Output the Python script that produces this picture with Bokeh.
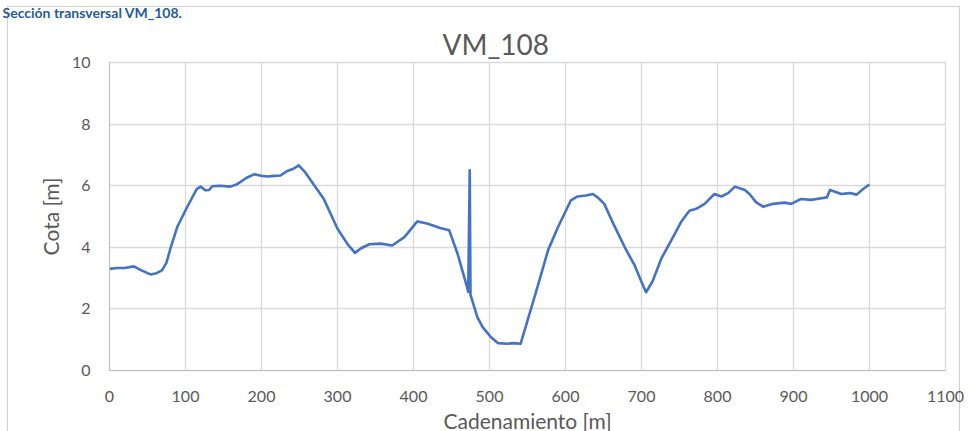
from bokeh.plotting import figure
from bokeh.models import SingleIntervalTicker, ColumnDataSource, Title
from bokeh.embed import file_html
from bokeh.resources import INLINE

page_heading = "Sección transversal VM_108."
title_text = "VM_108"
x_label = "Cadenamiento [m]"
y_label = "Cota [m]"

cadenamiento = [0, 10, 20, 32, 42, 54, 62, 69, 75, 80, 89, 102, 115, 120, 126, 131, 135, 145,
                159, 168, 180, 190, 200, 208, 217, 225, 234, 242, 249, 257, 265, 282, 300, 313,
                323, 331, 342, 357, 372, 388, 405, 418, 435, 447, 458, 466, 470, 472, 474, 475,
                477, 484, 491, 502, 511, 524, 532, 541, 550, 563, 577, 590, 607, 616, 627, 636,
                642, 651, 664, 678, 691, 702, 706, 715, 726, 739, 752, 763, 772, 783, 796, 805,
                814, 823, 836, 842, 851, 860, 873, 888, 897, 910, 923, 939, 944, 948, 963, 974,
                983, 992, 1000]
cota = [3.30, 3.33, 3.33, 3.38, 3.25, 3.12, 3.16, 3.25, 3.5, 3.95, 4.65, 5.3, 5.9, 5.97, 5.85,
        5.86, 5.98, 6.0, 5.97, 6.05, 6.25, 6.37, 6.32, 6.3, 6.32, 6.33, 6.48, 6.55, 6.66, 6.45,
        6.17, 5.57, 4.6, 4.11, 3.82, 3.97, 4.1, 4.12, 4.06, 4.33, 4.84, 4.77, 4.63, 4.55, 3.79,
        3.1, 2.75, 2.55, 6.5, 2.45, 2.3, 1.73, 1.41, 1.08, 0.89, 0.87, 0.89, 0.87, 1.62, 2.7,
        3.9, 4.65, 5.52, 5.65, 5.68, 5.73, 5.63, 5.41, 4.71, 4.0, 3.41, 2.76, 2.54, 2.92, 3.63,
        4.22, 4.82, 5.19, 5.25, 5.41, 5.73, 5.65, 5.76, 5.97, 5.86, 5.73, 5.46, 5.32, 5.41,
        5.45, 5.41, 5.57, 5.54, 5.6, 5.62, 5.86, 5.73, 5.76, 5.71, 5.9, 6.04]

x_start, x_end, x_step = 0, 1100, 100
y_start, y_end, y_step = 0, 10, 2

FONT = "Lato"
TEXT = "#595959"
GRID = "#d9d9d9"

p = figure(frame_width=836, frame_height=308,
           min_border_left=109, min_border_right=32, min_border_top=62, min_border_bottom=61,
           x_range=(x_start, x_end), y_range=(y_start, y_end),
           output_backend="svg", toolbar_location=None,
           title=page_heading, x_axis_label=x_label, y_axis_label=y_label)

# transparent border area so that the chart-area frame (drawn with CSS) shows
p.border_fill_color = None
p.background_fill_color = "white"
p.styles = {
    "background-color": "white",
    "box-shadow": ("inset 7px 6px 0 0 white, inset -17px -3px 0 0 white, "
                   "inset 8px 7px 0 0 #d0d0d0, inset -18px -4px 0 0 #d0d0d0"),
}

# page heading (outermost, at the top edge)
p.title.align = "left"
p.title.offset = -107
p.title.text_font = FONT
p.title.text_font_size = "14px"
p.title.text_font_style = "bold"
p.title.text_color = "#1f5c99"
p.title.standoff = 0
p.title.vertical_align = "top"

# chart title, next to the plot frame
p.add_layout(Title(text=title_text, align="left", offset=333,
                   text_font=FONT, text_font_size="28px", text_font_style="normal",
                   text_color=TEXT, standoff=4), "above")

p.xaxis.ticker = SingleIntervalTicker(interval=x_step)
p.yaxis.ticker = SingleIntervalTicker(interval=y_step)

for ax in (p.xaxis, p.yaxis):
    ax.major_tick_line_color = None
    ax.minor_tick_line_color = None
    ax.axis_line_color = "#bfbfbf"
    ax.major_label_text_font = FONT
    ax.major_label_text_font_size = "16px"
    ax.major_label_text_color = TEXT
    ax.axis_label_text_font = FONT
    ax.axis_label_text_font_size = "21px"
    ax.axis_label_text_font_style = "normal"
    ax.axis_label_text_color = TEXT

p.xaxis.major_label_standoff = 14
p.xaxis.axis_label_standoff = 3
p.yaxis.major_label_standoff = 13
p.yaxis.axis_label_standoff = 6

p.xgrid.grid_line_color = GRID
p.ygrid.grid_line_color = GRID
p.xgrid.grid_line_width = 1.3
p.ygrid.grid_line_width = 1.3
p.outline_line_color = GRID
p.outline_line_width = 1.3

src = ColumnDataSource(data=dict(x=cadenamiento, y=cota))
p.line("x", "y", source=src, line_color="#4472C4", line_width=2.6, line_join="round")

open("out.html", "w").write(file_html(p, INLINE))
